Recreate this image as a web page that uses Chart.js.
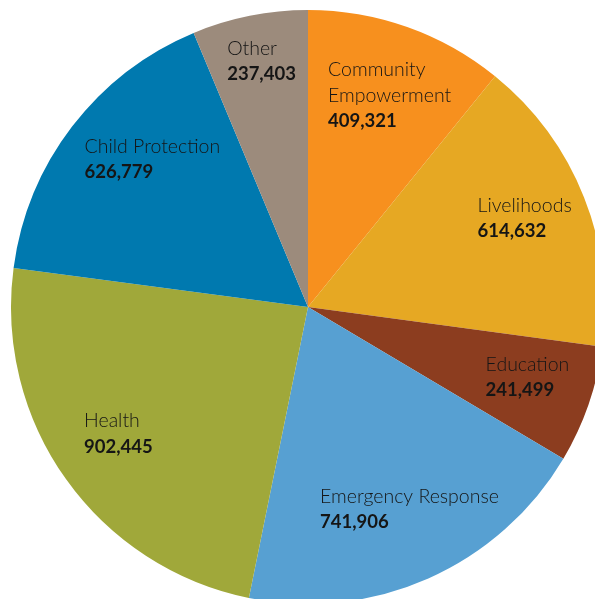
<!DOCTYPE html>
<html>
<head>
<meta charset="utf-8">
<script src="https://cdn.jsdelivr.net/npm/chart.js@4"></script>
<style>
  html, body { margin: 0; padding: 0; background: #fff; overflow: hidden; }
  #wrap { width: 595px; height: 599px; overflow: hidden; }
  canvas { display: block; }
</style>
</head>
<body>
<div id="wrap"><canvas id="programPie" width="616" height="614"></canvas></div>
<script>
// ========== Data ==========
const categories = [
  ['Community', 'Empowerment'],
  'Livelihoods',
  'Education',
  'Emergency Response',
  'Health',
  'Child Protection',
  'Other'
];
const beneficiaries = [409321, 614632, 241499, 741906, 902445, 626779, 237403];
const sliceColors = ['#F7901E', '#E6A823', '#8C3D1F', '#57A0D2', '#A0A83A', '#0079AF', '#9C8B7C'];

// label block placement: fraction of radius, and a small turn (degrees) off the slice middle
const labelRadius = [0.763, 0.788, 0.776, 0.763, 0.768, 0.722, 0.841];
const labelTurn = [1.6, -0.6, -1.4, -2.7, 1.7, 6.0, 0.6];

// ========== Label plugin ==========
const sliceLabels = {
  id: 'sliceLabels',
  afterDatasetsDraw(chart) {
    const ctx = chart.ctx;
    const meta = chart.getDatasetMeta(0);
    const lineH = 25.5;
    meta.data.forEach((arc, i) => {
      const p = arc.getProps(['x', 'y', 'startAngle', 'endAngle', 'outerRadius'], true);
      const mid = (p.startAngle + p.endAngle) / 2 + labelTurn[i] * Math.PI / 180;
      const r = p.outerRadius * labelRadius[i];
      const cx = p.x + Math.cos(mid) * r;
      const cy = p.y + Math.sin(mid) * r;

      const name = [].concat(chart.data.labels[i]);
      const value = chart.data.datasets[0].data[i].toLocaleString('en-US');
      const lines = name.map(t => ({ t, font: '300 19.5px Lato' }));
      lines.push({ t: value, font: 'bold 18.5px Lato' });

      let maxW = 0;
      lines.forEach(l => {
        ctx.font = l.font;
        maxW = Math.max(maxW, ctx.measureText(l.t).width);
      });

      const left = cx - maxW / 2;
      const top = cy - (lines.length - 1) * lineH / 2;
      ctx.save();
      ctx.fillStyle = '#151515';
      ctx.textAlign = 'left';
      ctx.textBaseline = 'middle';
      lines.forEach((l, k) => {
        ctx.font = l.font;
        ctx.fillText(l.t, left, top + k * lineH);
      });
      ctx.restore();
    });
  }
};

// ========== Pie ==========
new Chart(document.getElementById('programPie'), {
  type: 'pie',
  data: {
    labels: categories,
    datasets: [{
      data: beneficiaries,
      backgroundColor: sliceColors,
      borderWidth: 0
    }]
  },
  options: {
    responsive: false,
    animation: false,
    layout: { padding: 10 },
    plugins: {
      legend: { display: false },
      tooltip: { enabled: false }
    }
  },
  plugins: [sliceLabels]
});
</script>
</body>
</html>
